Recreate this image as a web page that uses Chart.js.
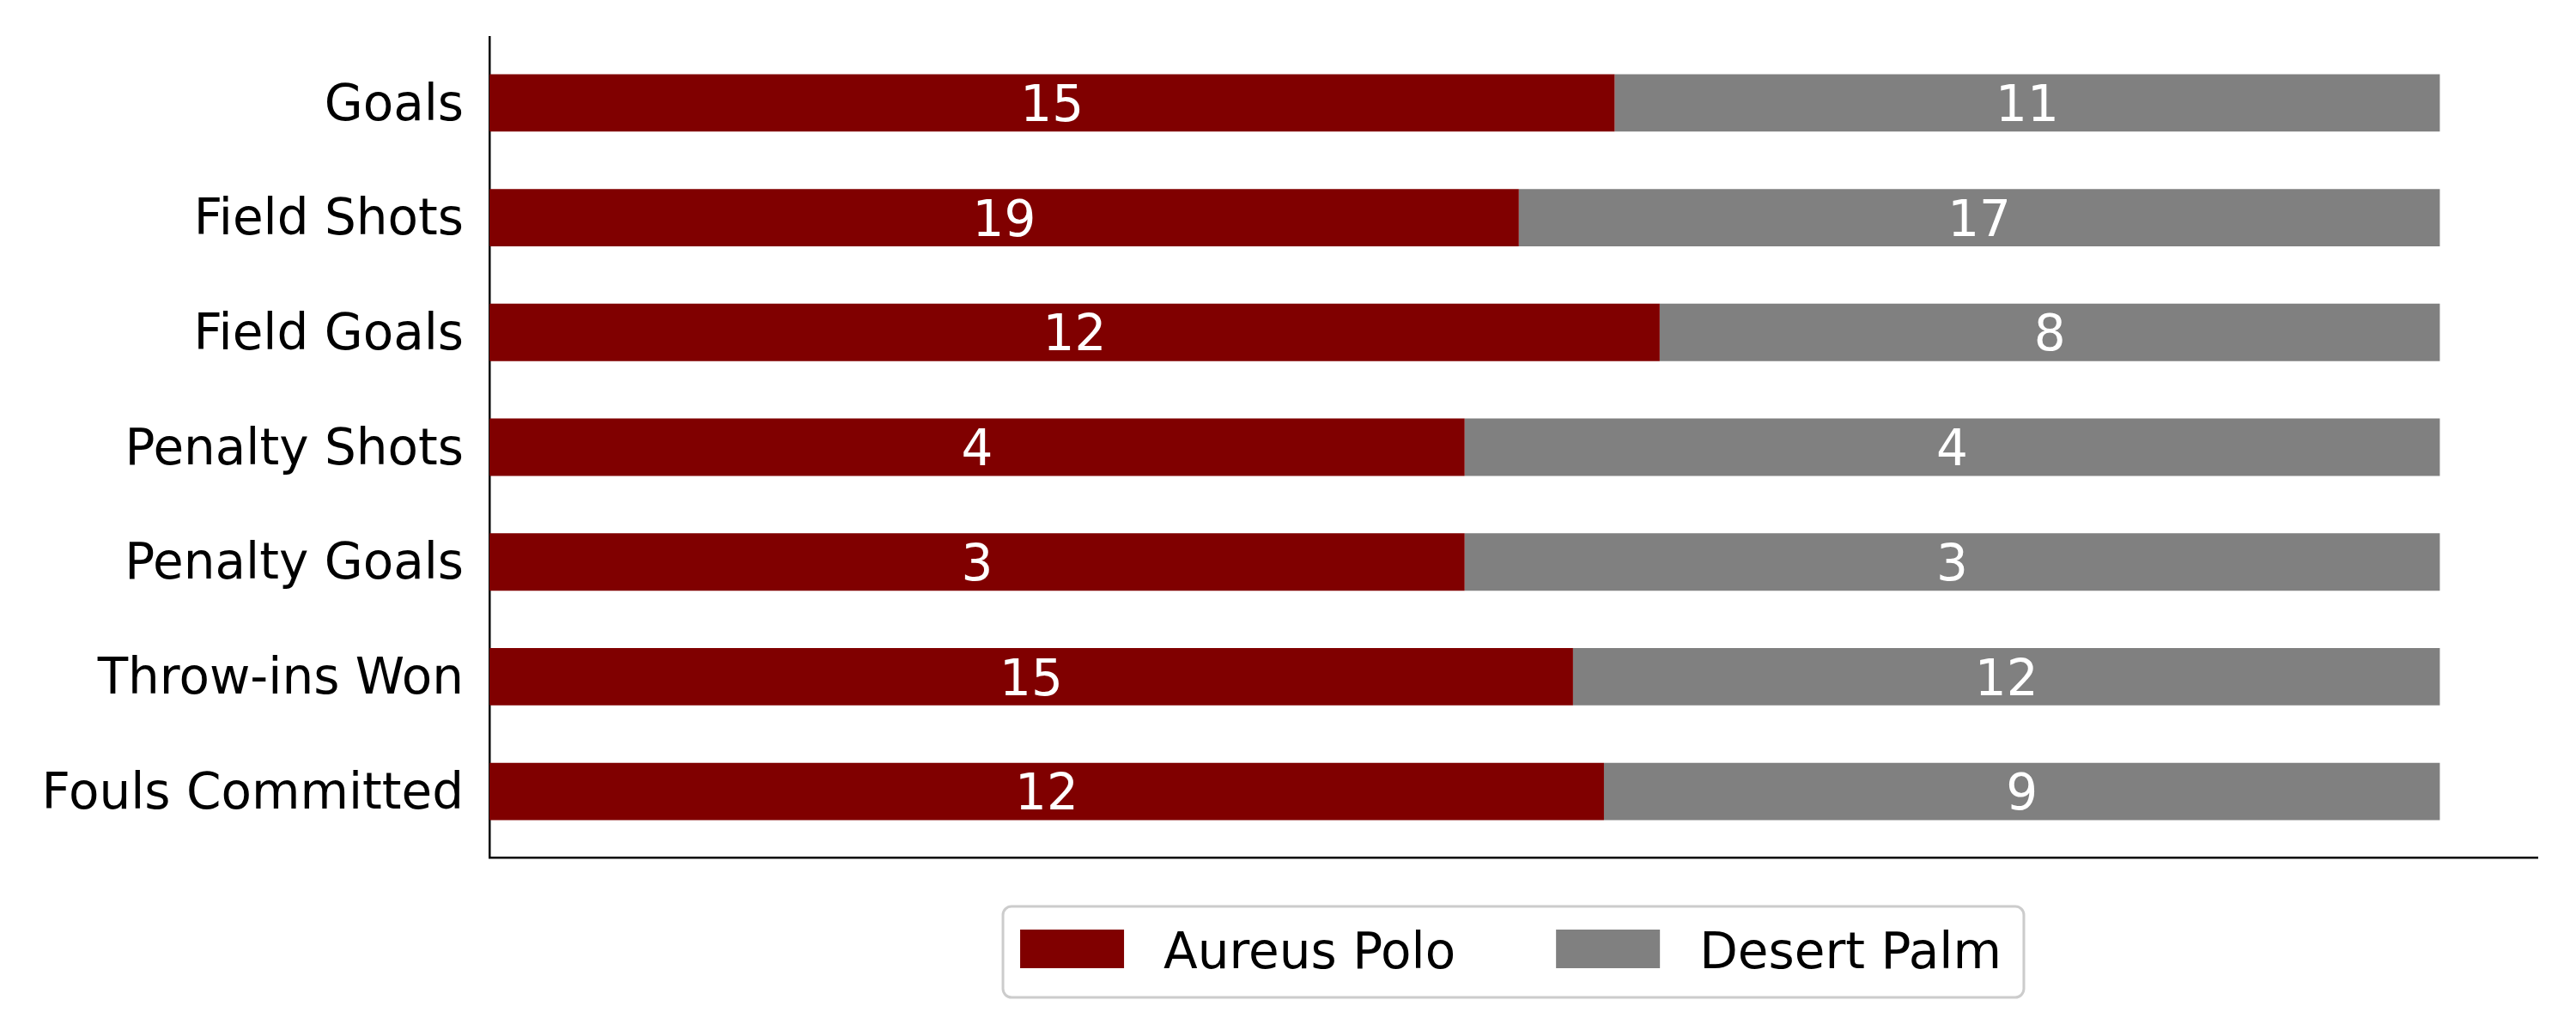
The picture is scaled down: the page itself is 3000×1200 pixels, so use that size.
<!DOCTYPE html>
<html>
<head>
<meta charset="utf-8">
<script src="https://cdn.jsdelivr.net/npm/chart.js@4/dist/chart.umd.min.js"></script>
<style>
  body{margin:0;background:#fff}
  canvas{display:block}
</style>
</head>
<body>
<canvas id="myChart" width="3000" height="1200"></canvas>
<script>
const categories=["Goals","Field Shots","Field Goals","Penalty Shots","Penalty Goals","Throw-ins Won","Fouls Committed"]
const aureusPolo=[15,19,12,4,3,15,12]
const desertPalm=[11,17,8,4,3,12,9]
const teams=["Aureus Polo","Desert Palm"]
const colors=["#800000","#808080"]

const FONT='"DejaVu Sans", sans-serif'
const FS=58

// each bar is stretched to 100%, the label shows the raw count
function shares(vals, other){
  return vals.map((v,i)=>({x:v/(v+other[i]), y:i}))
}

const datasets=[
  {label:teams[0], data:shares(aureusPolo,desertPalm), backgroundColor:colors[0], raw:aureusPolo},
  {label:teams[1], data:shares(desertPalm,aureusPolo), backgroundColor:colors[1], raw:desertPalm}
]

const barLabels={
  id:"barLabels",
  afterDatasetsDraw(chart){
    const ctx=chart.ctx
    ctx.save()
    ctx.font=FS+"px "+FONT
    ctx.fillStyle="#fff"
    ctx.textAlign="center"
    ctx.textBaseline="alphabetic"
    chart.data.datasets.forEach((ds,d)=>{
      chart.getDatasetMeta(d).data.forEach((bar,i)=>{
        ctx.fillText(String(ds.raw[i]),(bar.x+bar.base)/2,bar.y+FS*0.3645)
      })
    })
    ctx.restore()
  }
}

const boxLegend={
  id:"boxLegend",
  afterDraw(chart){
    const ctx=chart.ctx
    const area=chart.chartArea
    ctx.save()
    ctx.font=FS+"px "+FONT
    const patchW=121, patchH=45, gap=46, colGap=117, padL=20, padR=26
    const items=chart.data.datasets.map(ds=>({label:ds.label,color:ds.backgroundColor,w:ctx.measureText(ds.label).width}))
    let total=padL+padR
    items.forEach((it,i)=>{ total+=patchW+gap+it.w+(i>0?colGap:0) })
    const top=1056, h=106
    const left=(area.left+area.right)/2-total/2
    ctx.beginPath()
    ctx.roundRect(left,top,total,h,10)
    ctx.fillStyle="rgba(255,255,255,0.8)"
    ctx.fill()
    ctx.lineWidth=3
    ctx.strokeStyle="#cccccc"
    ctx.stroke()
    let x=left+padL
    const cy=top+49.5
    items.forEach((it,i)=>{
      if(i>0) x+=colGap
      ctx.fillStyle=it.color
      ctx.fillRect(x,cy-patchH/2,patchW,patchH)
      x+=patchW+gap
      ctx.fillStyle="#000"
      ctx.textBaseline="alphabetic"
      ctx.fillText(it.label,x,cy+22)
      x+=it.w
    })
    ctx.restore()
  }
}

const config={
  type:"bar",
  data:{datasets},
  options:{
    indexAxis:"y",
    responsive:false,
    animation:false,
    devicePixelRatio:1,
    categoryPercentage:1,
    barPercentage:0.5,
    layout:{padding:{top:43,right:45,bottom:201,left:0}},
    plugins:{legend:{display:false},tooltip:{enabled:false}},
    scales:{
      x:{
        type:"linear", stacked:true, min:0, max:1.05,
        grid:{display:false},
        ticks:{display:false},
        border:{display:true,color:"#000",width:2.5},
        afterFit(s){ s.height=0 }
      },
      y:{
        type:"linear", stacked:true, reverse:true, offset:false, min:-0.575, max:6.575,
        grid:{display:false,drawTicks:false,offset:false},
        border:{display:true,color:"#000",width:2.5},
        ticks:{
          autoSkip:false, padding:30, color:"#000",
          font:{family:FONT,size:FS},
          callback:(v)=>categories[Math.round(v)]
        },
        // tiny nudge so the label text sits centred on the bar like matplotlib's
        afterBuildTicks(s){ s.ticks=categories.map((c,i)=>({value:i+0.035})) },
        afterFit(s){ s.width=570; s.paddingTop=0; s.paddingBottom=0 }
      }
    }
  },
  plugins:[barLabels,boxLegend]
}

new Chart(document.getElementById("myChart"),config)
</script>
</body>
</html>
